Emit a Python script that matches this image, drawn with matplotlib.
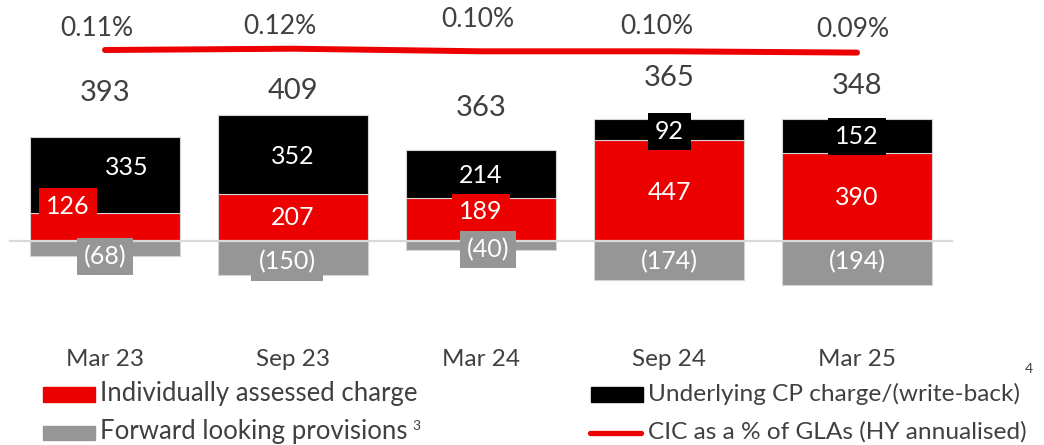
import numpy as np
import matplotlib
matplotlib.use("Agg")
import matplotlib.pyplot as plt
import matplotlib.transforms as mtransforms
from matplotlib.patches import Rectangle
from matplotlib.lines import Line2D

plt.rcParams['font.family'] = ['Lato', 'DejaVu Sans']

periods = ['Mar 23', 'Sep 23', 'Mar 24', 'Sep 24', 'Mar 25']
individually_assessed = [126, 207, 189, 447, 390]
underlying_cp = [335, 352, 214, 92, 152]
forward_looking = [-68, -150, -40, -174, -194]
cic_pct = [0.11, 0.12, 0.10, 0.10, 0.09]

RED = '#EC0000'
BLACK = '#000000'
GREY = '#969696'
TXT = '#404040'

# label nudges in pixels (dx, dy), dy positive = up
red_nudge = [(-37, 20), (0, 0), (0, 8), (0, -2), (0, -1)]
black_nudge = [(22, 7), (0, -2), (0, -1), (0, -2), (0, -1)]
grey_nudge = [(0, -8), (-6, -4), (7, -4), (0, -1), (0, 1)]
total_nudge = [44, 24, 42, 41, 33]
pct_nudge = [(-8, 22), (-13, 22), (-3, 32), (-12, 25), (-4, 23)]

W, H = 1044, 445
fig = plt.figure(figsize=(W / 100, H / 100), dpi=100)
ax = fig.add_axes([0, 0, 1, 1])

# pixel layout: bar centres 105 + 188*i, zero line at y=241, 0.226 px per unit
px_per_unit = 0.226
ax.set_xlim(-105 / 188, (W - 105) / 188)
ax.set_ylim(-(H - 241) / px_per_unit, 241 / px_per_unit)
ax.axis('off')

x = np.arange(len(periods))
red = np.array(individually_assessed)
blk = np.array(underlying_cp)
gry = np.array(forward_looking)

edge = dict(edgecolor='#d4d4d4', linewidth=0.8)
ax.bar(x, red, 0.8, color=RED, zorder=2, **edge)
ax.bar(x, blk, 0.8, bottom=red, color=BLACK, zorder=2, **edge)
ax.bar(x, gry, 0.8, color=GREY, zorder=2, **edge)

# zero line
ax.plot([(10 - 105) / 188, (952 - 105) / 188], [0, 0], color='#d9d9d9', lw=1.6, zorder=3)


def seg_label(xc, yc, text, colour, nudge):
    ax.annotate(text, (xc, yc), xytext=nudge, textcoords='offset pixels',
                ha='center', va='center', fontsize=18, color='white', zorder=5,
                bbox=dict(boxstyle='square,pad=0.28', fc=colour, ec='none'))


for i in range(len(periods)):
    seg_label(x[i], red[i] / 2, f'{red[i]}', RED, red_nudge[i])
    seg_label(x[i], red[i] + blk[i] / 2, f'{blk[i]}', BLACK, black_nudge[i])
    seg_label(x[i], gry[i] / 2, f'({-gry[i]})', GREY, grey_nudge[i])
    total = red[i] + blk[i] + gry[i]
    ax.annotate(f'{total}', (x[i], red[i] + blk[i]), xytext=(0, total_nudge[i]),
                textcoords='offset pixels', ha='center', va='center',
                fontsize=21, color=TXT)

# CIC ratio line on its own scale
ax2 = ax.twinx()
ax2.set_position([0, 0, 1, 1])
ax2.set_ylim(0.11 - (H - 50) / 130, 0.11 + 50 / 130)
ax2.axis('off')
ax2.plot(x, cic_pct, color=RED, lw=4.3, solid_capstyle='round', zorder=4)
for i, v in enumerate(cic_pct):
    ax2.annotate(f'{v:.2f}%', (x[i], v), xytext=pct_nudge[i], textcoords='offset pixels',
                 ha='center', va='center', fontsize=19, color=TXT)

# category labels under the bars
trans = mtransforms.blended_transform_factory(ax.transData, fig.transFigure)
for i, p in enumerate(periods):
    ax.text(x[i], 1 - 359 / H, p, transform=trans, ha='center', va='center',
            fontsize=17.5, color=TXT)

# legend drawn in pixel space
lax = fig.add_axes([0, 0, 1, 1])
lax.set_xlim(0, W)
lax.set_ylim(H, 0)
lax.axis('off')
lax.add_patch(Rectangle((43, 387), 52, 15, color=RED))
lax.add_patch(Rectangle((43, 426), 52, 14, color=GREY))
lax.add_patch(Rectangle((591, 387), 52, 15, color=BLACK))
lax.add_line(Line2D([590, 641], [433, 433], color=RED, lw=3.8, solid_capstyle='round'))
lax.text(100, 394, 'Individually assessed charge', va='center', ha='left', fontsize=18.5, color=TXT)
t3 = lax.text(100, 432, 'Forward looking provisions', va='center', ha='left', fontsize=18.5, color=TXT)
t4 = lax.text(648, 394, 'Underlying CP charge/(write-back)', va='center', ha='left', fontsize=17.6, color=TXT)
lax.text(648, 432, 'CIC as a % of GLAs (HY annualised)', va='center', ha='left', fontsize=17.6, color=TXT)

# footnote markers just after their legend texts
renderer = fig.canvas.get_renderer()
inv = lax.transData.inverted()
for t, note, y_sup in [(t4, '4', 369), (t3, '3', 426)]:
    x_end = inv.transform(t.get_window_extent(renderer).get_points())[1, 0]
    lax.text(x_end + 5, y_sup, note, va='center', ha='left', fontsize=10, color=TXT)

fig.savefig('out.png', dpi=100)
